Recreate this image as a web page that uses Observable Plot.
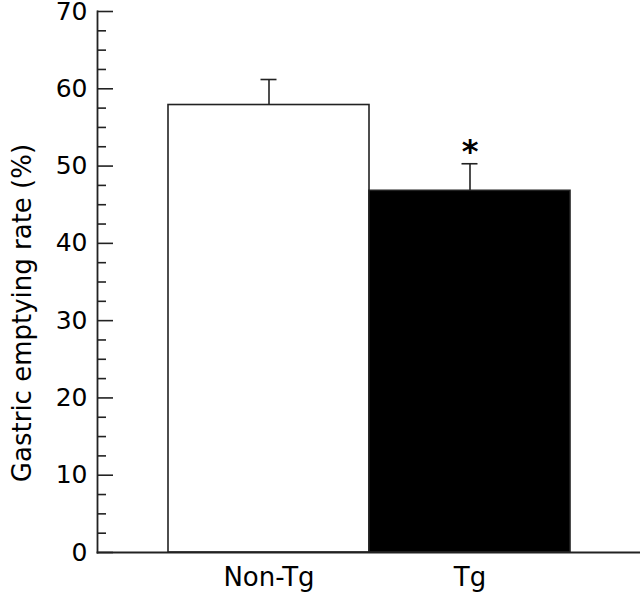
<!DOCTYPE html>
<html>
<head>
<meta charset="utf-8">
<script src="https://cdn.jsdelivr.net/npm/d3@7"></script>
<script src="https://cdn.jsdelivr.net/npm/@observablehq/plot@0.6"></script>
<style>
  html, body { margin: 0; padding: 0; background: #fff; }
</style>
</head>
<body>
<div id="chart"></div>
<script>
const groups = ["Non-Tg", "Tg"];
const means = [57.9, 46.8];
const upper = [61.2, 50.3];
const significance = ["", "*"];
const majorTicks = [0, 10, 20, 30, 40, 50, 60, 70];
const minorTicks = d3.range(0, 70.01, 2.5).filter(v => v % 10 !== 0);
const yLabel = "Gastric emptying rate (%)";

const data = groups.map((g, i) => ({group: g, mean: means[i], upper: upper[i], sig: significance[i]}));

const W = 640, H = 597, ML = 97, MR = 0, MT = 11, MB = 45;
const frameW = W - ML - MR;
const ink = "#222";

const chart = Plot.plot({
  width: W,
  height: H,
  marginLeft: ML,
  marginRight: MR,
  marginTop: MT,
  marginBottom: MB,
  style: {fontFamily: "'DejaVu Sans', sans-serif", fontSize: "24px", color: ink, background: "#fff"},
  x: {domain: groups, paddingInner: 0, paddingOuter: 0.35, label: null},
  y: {domain: [0, 70], label: null},
  marks: [
    Plot.barY(data, {x: "group", y: "mean", fill: d => d.group === "Tg" ? "#000" : "#fff", stroke: ink, strokeWidth: 1.6}),
    Plot.ruleX(data, {x: "group", y1: "mean", y2: "upper", stroke: ink, strokeWidth: 1.6}),
    Plot.tickY(data, {x: "group", y: "upper", stroke: ink, strokeWidth: 1.6, insetLeft: 92.5, insetRight: 92.5}),
    Plot.text(data, {x: "group", y: "upper", text: "sig", dy: -2, lineAnchor: "bottom", fontSize: 32, fontWeight: "bold", fill: "#000"}),
    Plot.ruleY(majorTicks, {stroke: ink, strokeWidth: 1.6, insetRight: frameW - 16}),
    Plot.ruleY(minorTicks, {stroke: ink, strokeWidth: 1.6, insetRight: frameW - 9}),
    Plot.axisY({ticks: majorTicks, tickSize: 0, tickPadding: 10, label: null, fill: "#000", fontSize: 25}),
    Plot.text([yLabel], {frameAnchor: "left", textAnchor: "middle", rotate: -90, dx: -75, dy: 31, fontSize: 26, fill: "#000"}),
    Plot.axisX({tickSize: 0, tickPadding: 15, fill: "#000", label: null, fontSize: 26}),
    Plot.frame({anchor: "left", stroke: ink, strokeWidth: 1.8}),
    Plot.frame({anchor: "bottom", stroke: ink, strokeWidth: 1.8})
  ]
});
document.getElementById("chart").appendChild(chart);
</script>
</body>
</html>
